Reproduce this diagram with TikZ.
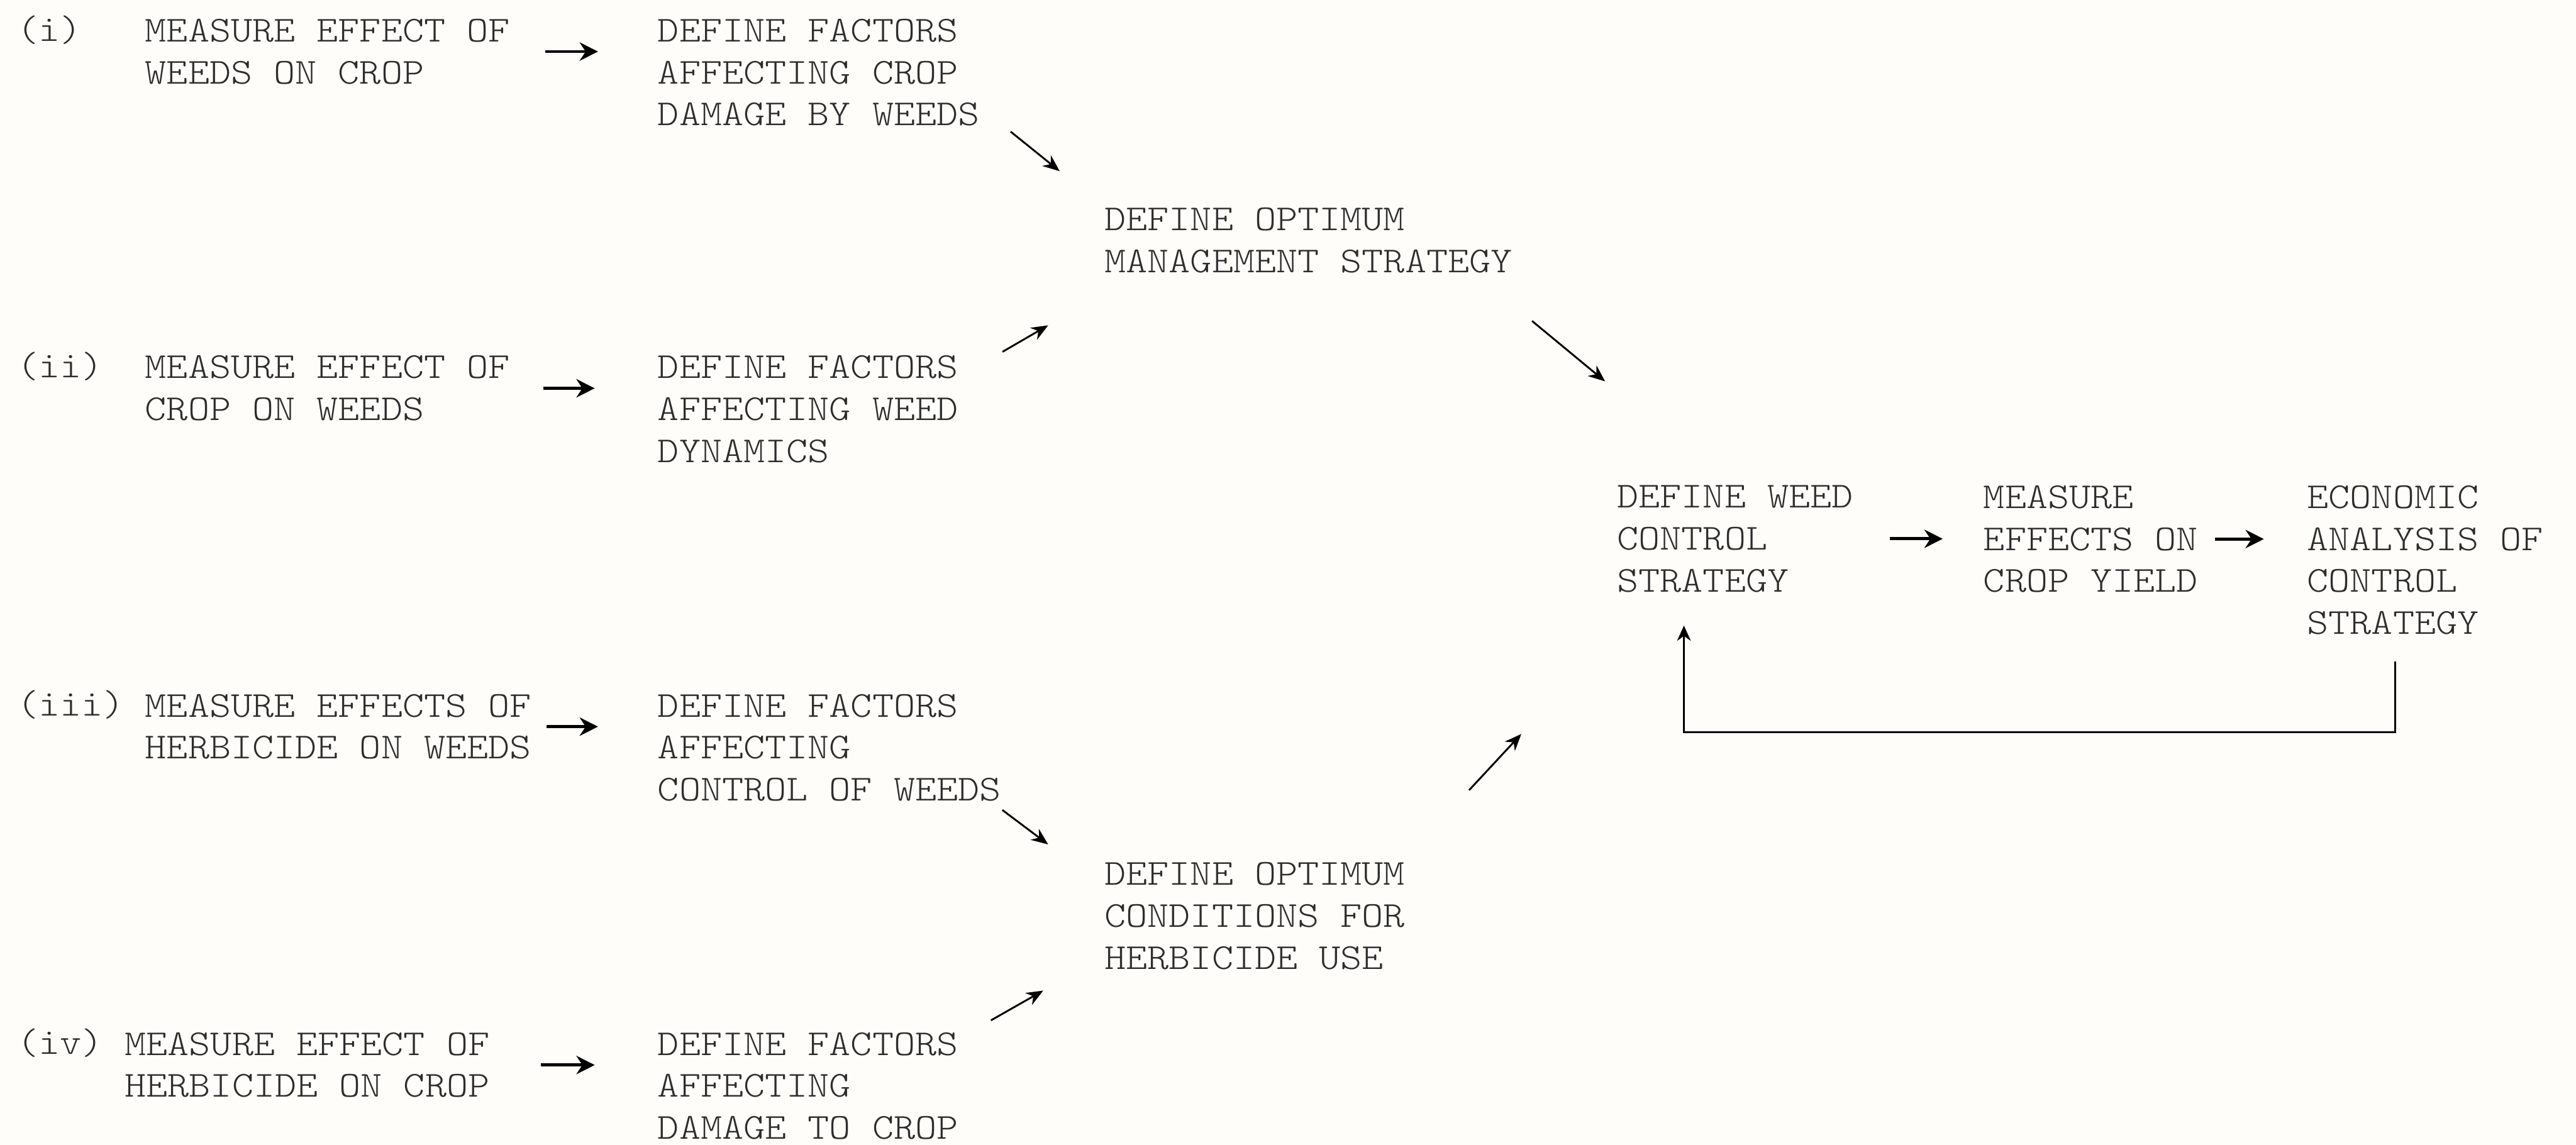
\documentclass[tikz,border=0pt]{standalone}
\usepackage{fontspec}
\newfontfamily\typeface[Extension=.otf,FakeStretch=1.117]{lmmonolt10-regular}
\usepackage{tikz}
\usetikzlibrary{arrows.meta}
\usetikzlibrary{calc}
\usetikzlibrary{positioning}

\definecolor{paper}{RGB}{254,253,249}
\definecolor{ink}{RGB}{45,45,45}

\begin{document}
\begin{tikzpicture}[x=0.018941cm,y=-0.018941cm,
    box/.style={anchor=north west,align=left,inner sep=0pt,text=ink,
      font=\typeface\fontsize{12}{13.76}\selectfont},
    tag/.style={anchor=base west,inner sep=0pt,text=ink,
      font=\typeface\fontsize{12}{13.76}\selectfont},
    fwd/.style={-{Stealth[length=6pt,width=6pt]},line width=1pt},
    slant/.style={-{Stealth[length=5.5pt,width=4.5pt]},line width=0.6pt},
    back/.style={-{Stealth[length=5pt,width=4.5pt]},line width=0.55pt}]

        \fill[paper] (0,0) rectangle (1568,697);

        % the four lines of work
        \node[tag] (lab1) at (10,24.9) {(i)};
        \node[tag] (lab2) at (10,229.9) {(ii)};
        \node[tag] (lab3) at (10,435.9) {(iii)};
        \node[tag] (lab4) at (10,641.9) {(iv)};

        \node[box] (m1) at (88,11.2) {MEASURE EFFECT OF\\WEEDS ON CROP};
        \node[box] (m2) at (88,216.2) {MEASURE EFFECT OF\\CROP ON WEEDS};
        \node[box] (m3) at (88,422.2) {MEASURE EFFECTS OF\\HERBICIDE ON WEEDS};
        \node[box] (m4) at (75.6,628.2) {MEASURE EFFECT OF\\HERBICIDE ON CROP};

        \node[box] (f1) at (400,11.2) {DEFINE FACTORS\\AFFECTING CROP\\DAMAGE BY WEEDS};
        \node[box] (f2) at (400,216.2) {DEFINE FACTORS\\AFFECTING WEED\\DYNAMICS};
        \node[box] (f3) at (400,422.2) {DEFINE FACTORS\\AFFECTING\\CONTROL OF WEEDS};
        \node[box] (f4) at (400,628.2) {DEFINE FACTORS\\AFFECTING\\DAMAGE TO CROP};

        \node[box] (opt1) at (672,126.2) {DEFINE OPTIMUM\\MANAGEMENT STRATEGY};
        \node[box] (opt2) at (672,524.7) {DEFINE OPTIMUM\\CONDITIONS FOR\\HERBICIDE USE};

        % strategy and its check
        \node[box] (ctrl) at (984,295.2) {DEFINE WEED\\CONTROL\\STRATEGY};
        \node[box] (yld) at (1207,295.2) {MEASURE\\EFFECTS ON\\CROP YIELD};
        \node[box] (econ) at (1404,295.2) {ECONOMIC\\ANALYSIS OF\\CONTROL\\STRATEGY};

        \draw[fwd] ($(m1.east)+(21,0)$) -- ($(m1.east -| f1.west)+(-36,0)$);
        \draw[fwd] ($(m2.east)+(20,0)$) -- ($(m2.east -| f2.west)+(-38,0)$);
        \draw[fwd] ($(m3.east)+(9,0)$) -- ($(m3.east -| f3.west)+(-36,0)$);
        \draw[fwd] ($(m4.east)+(31,0)$) -- ($(m4.east -| f4.west)+(-38,0)$);

        \draw[slant] ($(f1.south east)+(18.5,3)$) -- ($(opt1.north west)+(-27,-22)$);
        \draw[slant] ($(f2.north east)+(26.6,-2)$) -- ($(opt1.south west)+(-34,31.5)$);
        \draw[slant] ($(f3.south east)+(0.4,5)$) -- ($(opt2.north west)+(-34,-10.6)$);
        \draw[slant] ($(f4.north east)+(19.6,-7)$) -- ($(opt2.south west)+(-37,12.5)$);
        \draw[slant] ($(opt1.south east)+(11.6,28.8)$) -- ($(ctrl.north west)+(-7,-63)$);
        \draw[slant] ($(opt2.north east)+(38.6,-43.6)$) -- ($(ctrl.south west)+(-58,86)$);

        \draw[fwd] ($(ctrl.east)+(22,0)$) -- ($(ctrl.east -| yld.west)+(-24.5,0)$);
        \draw[fwd] ($(yld.east)+(10,0)$) -- ($(yld.east -| econ.west)+(-26,0)$);

        \draw[back] ($(econ.south west)+(54,16)$) |- ($(ctrl.south west)+(41,85)$)
          -- ($(ctrl.south west)+(41,20)$);
      \end{tikzpicture}
\end{document}
